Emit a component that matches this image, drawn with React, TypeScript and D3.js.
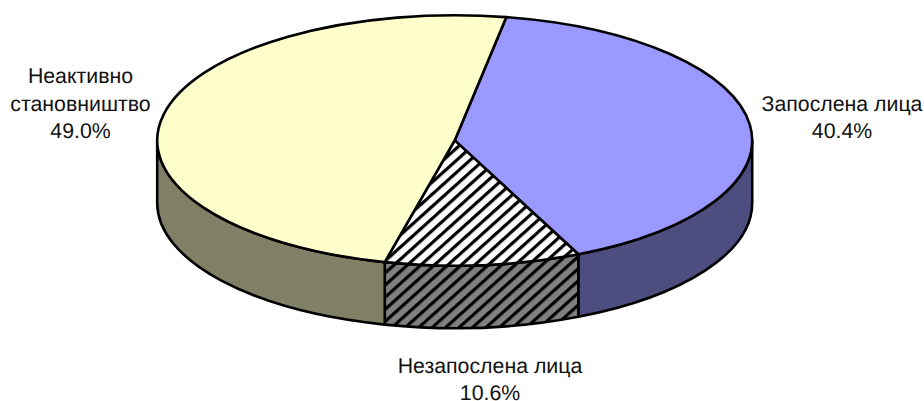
import React from 'react';
import * as d3 from 'd3';

// --- Data ---
const categories = ['Запослена лица', 'Незапослена лица', 'Неактивно становништво'];
const shares = [40.4, 10.6, 49.0];
const labelLines = [['Запослена лица', '40.4%'], ['Незапослена лица', '10.6%'], ['Неактивно', 'становништво', '49.0%']];
const topFills = ['#9999ff', 'url(#hatchTop)', '#ffffcc'];
const sideFills = ['#4d4d80', 'url(#hatchSide)', '#808066'];
const labelAnchors: [number, number][] = [[842, 111], [490, 373], [80.5, 83.3]];

// --- Pie geometry ---
const WIDTH = 924, HEIGHT = 401;
const CX = 454.7, CY = 140.4, RX = 297.5, RY = 125.2, DEPTH = 62.5;
const START_DEG = 10;
const LINE_H = 27.4;

const pie = d3.pie<number>().sort(null).startAngle(START_DEG * Math.PI / 180).endAngle((START_DEG + 360) * Math.PI / 180);
const slices = pie(shares);

const px = (a: number) => CX + RX * Math.sin(a);
const py = (a: number, dy = 0) => CY - RY * Math.cos(a) + dy;

function topPath(a0: number, a1: number) {
  const large = a1 - a0 > Math.PI ? 1 : 0;
  return `M${CX},${CY}L${px(a0)},${py(a0)}A${RX},${RY} 0 ${large} 1 ${px(a1)},${py(a1)}Z`;
}

// the wall is only visible on the front half of the ellipse (90deg..270deg)
function sidePath(a0: number, a1: number) {
  const lo = Math.max(a0, Math.PI / 2), hi = Math.min(a1, Math.PI * 1.5);
  if (hi <= lo) return null;
  return `M${px(lo)},${py(lo)}A${RX},${RY} 0 0 1 ${px(hi)},${py(hi)}L${px(hi)},${py(hi, DEPTH)}A${RX},${RY} 0 0 0 ${px(lo)},${py(lo, DEPTH)}Z`;
}

function Hatch({ id, bg }: { id: string; bg: string }) {
  return (
    <pattern id={id} patternUnits="userSpaceOnUse" width={9} height={9} patternTransform="rotate(-42)">
      <rect width={9} height={9} fill={bg} />
      <rect y={0} width={9} height={3.2} fill="#000" />
    </pattern>
  );
}

export default function App() {
  return (
    <svg width={WIDTH} height={HEIGHT} style={{ position: 'absolute', left: 0, top: 0, background: '#fff' }}>
      <defs>
        <Hatch id="hatchTop" bg="#fff" />
        <Hatch id="hatchSide" bg="#808080" />
      </defs>
      <g stroke="#000" strokeWidth={2.6} strokeLinejoin="round">
        {slices.map((s, i) => {
          const d = sidePath(s.startAngle, s.endAngle);
          return d ? <path key={categories[i]} d={d} fill={sideFills[i]} /> : null;
        })}
        {slices.map((s, i) => (
          <path key={categories[i]} d={topPath(s.startAngle, s.endAngle)} fill={topFills[i]} />
        ))}
      </g>
      <g fontFamily="'Liberation Sans', Arial, sans-serif" fontSize={21.3} fill="#111" textAnchor="middle" textRendering="geometricPrecision">
        {labelLines.map((lines, i) => (
          <text key={categories[i]}>
            {lines.map((t, j) => (
              <tspan key={t} x={labelAnchors[i][0]} y={labelAnchors[i][1] + j * LINE_H}>{t}</tspan>
            ))}
          </text>
        ))}
      </g>
    </svg>
  );
}
